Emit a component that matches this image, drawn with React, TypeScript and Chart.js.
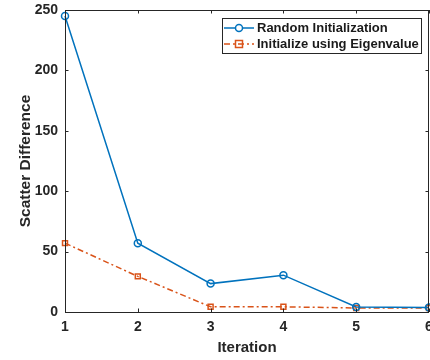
import React, { useEffect, useRef } from "react";
import { Chart, registerables } from "chart.js";

Chart.register(...registerables);

const iterations = [1, 2, 3, 4, 5, 6];
const randomInit = [245, 57, 23.5, 30.5, 4.2, 3.8];
const eigenInit = [57, 29.5, 4.3, 4.3, 3.3, 3.3];
const xTicks = [1, 2, 3, 4, 5, 6];
const yTicks = [0, 50, 100, 150, 200, 250];
const seriesNames = ["Random Initialization", "Initialize using Eigenvalue"];

const BLUE = "#0072BD";
const ORANGE = "#D95319";
const AXIS = "#262626";
const FONT = "'Liberation Sans', Arial, sans-serif";
const DASH = [6, 3, 2, 3];
const CANVAS_W = 440;

const boxPlugin = {
  id: "matlabBox",
  afterDatasetsDraw(chart: any) {
    const { ctx, chartArea } = chart;
    const { left, right, top, bottom } = chartArea;
    const xs = chart.scales.x;
    const ys = chart.scales.y;
    ctx.save();
    ctx.strokeStyle = AXIS;
    ctx.lineWidth = 1;
    ctx.beginPath();
    ctx.rect(Math.round(left) + 0.5, Math.round(top) + 0.5, Math.round(right - left) - 1, Math.round(bottom - top));
    ctx.stroke();
    const tl = 3.5;
    ctx.beginPath();
    xTicks.forEach((v) => {
      const px = Math.round(xs.getPixelForValue(v)) + 0.5;
      ctx.moveTo(px, bottom);
      ctx.lineTo(px, bottom - tl);
      ctx.moveTo(px, top);
      ctx.lineTo(px, top + tl);
    });
    yTicks.forEach((v) => {
      const py = Math.round(ys.getPixelForValue(v)) + 0.5;
      ctx.moveTo(left, py);
      ctx.lineTo(left + tl, py);
      ctx.moveTo(right, py);
      ctx.lineTo(right - tl, py);
    });
    ctx.stroke();

    // legend
    const lx = 222, ly = 18, lw = 199, lh = 35;
    ctx.fillStyle = "#ffffff";
    ctx.fillRect(lx, ly, lw, lh);
    ctx.strokeStyle = AXIS;
    ctx.strokeRect(lx + 0.5, ly + 0.5, lw, lh);
    const rows = [
      { name: seriesNames[0], color: BLUE, dash: [] as number[], shape: "circle", y: 28 },
      { name: seriesNames[1], color: ORANGE, dash: DASH, shape: "rect", y: 44 },
    ];
    rows.forEach((r) => {
      ctx.strokeStyle = r.color;
      ctx.lineWidth = 1.5;
      ctx.setLineDash(r.dash);
      ctx.beginPath();
      ctx.moveTo(224, r.y);
      ctx.lineTo(254, r.y);
      ctx.stroke();
      ctx.setLineDash([]);
      ctx.beginPath();
      if (r.shape === "circle") {
        ctx.fillStyle = "#ffffff";
        ctx.arc(239, r.y, 3.5, 0, Math.PI * 2);
        ctx.fill();
        ctx.stroke();
      } else {
        ctx.rect(235.5, r.y - 3.5, 7, 7);
        ctx.stroke();
      }
      ctx.fillStyle = "#1a1a1a";
      ctx.font = `bold 13px ${FONT}`;
      ctx.textBaseline = "middle";
      ctx.textAlign = "left";
      ctx.fillText(r.name, 257, r.y + 0.5);
    });
    ctx.restore();
  },
};

export default function App() {
  const ref = useRef<HTMLCanvasElement>(null);
  useEffect(() => {
    if (!ref.current) return;
    const chart = new Chart(ref.current, {
      type: "line",
      data: {
        datasets: [
          {
            label: seriesNames[0],
            data: iterations.map((x, i) => ({ x, y: randomInit[i] })),
            borderColor: BLUE,
            borderWidth: 1.5,
            pointStyle: "circle",
            pointRadius: 3.5,
            pointBorderWidth: 1.5,
            pointBorderColor: BLUE,
            pointBackgroundColor: "rgba(0,0,0,0)",
            tension: 0,
            clip: false as any,
          },
          {
            label: seriesNames[1],
            data: iterations.map((x, i) => ({ x, y: eigenInit[i] })),
            borderColor: ORANGE,
            borderWidth: 1.5,
            borderDash: DASH,
            pointStyle: "rect",
            pointRadius: 3.5,
            pointBorderWidth: 1.5,
            pointBorderColor: ORANGE,
            pointBackgroundColor: "rgba(0,0,0,0)",
            tension: 0,
            clip: false as any,
          },
        ],
      },
      options: {
        responsive: false,
        animation: false,
        layout: { padding: { top: 10, right: CANVAS_W - 429, left: 0, bottom: 0 } },
        plugins: { legend: { display: false }, tooltip: { enabled: false } },
        scales: {
          x: {
            type: "linear",
            min: 1,
            max: 6,
            afterBuildTicks: (s: any) => {
              s.ticks = xTicks.map((v) => ({ value: v }));
            },
            ticks: {
              padding: 7,
              color: AXIS,
              font: { family: FONT, size: 14, weight: "bold" },
              maxRotation: 0,
            },
            grid: { display: false, drawTicks: false },
            border: { display: false },
            title: {
              display: true,
              text: "Iteration",
              color: AXIS,
              font: { family: FONT, size: 15, weight: "bold" },
              padding: { top: 0, bottom: 3 },
            },
            afterFit: (s: any) => {
              s.height = 48;
            },
          },
          y: {
            type: "linear",
            min: 0,
            max: 250,
            afterBuildTicks: (s: any) => {
              s.ticks = yTicks.map((v) => ({ value: v }));
            },
            ticks: {
              padding: 7,
              color: AXIS,
              font: { family: FONT, size: 14, weight: "bold" },
            },
            grid: { display: false, drawTicks: false },
            border: { display: false },
            title: {
              display: true,
              text: "Scatter Difference",
              color: AXIS,
              font: { family: FONT, size: 15.5, weight: "bold" },
              padding: { top: 16, bottom: 0 },
            },
            afterFit: (s: any) => {
              s.width = 65;
              s.paddingTop = 0;
              s.paddingBottom = 0;
            },
          },
        },
      } as any,
      plugins: [boxPlugin],
    });
    return () => chart.destroy();
  }, []);
  return (
    <div style={{ position: "fixed", left: 0, top: 0, width: 430, height: 360, overflow: "hidden", background: "#fff" }}>
      <canvas ref={ref} width={CANVAS_W} height={360} style={{ display: "block" }} />
    </div>
  );
}
